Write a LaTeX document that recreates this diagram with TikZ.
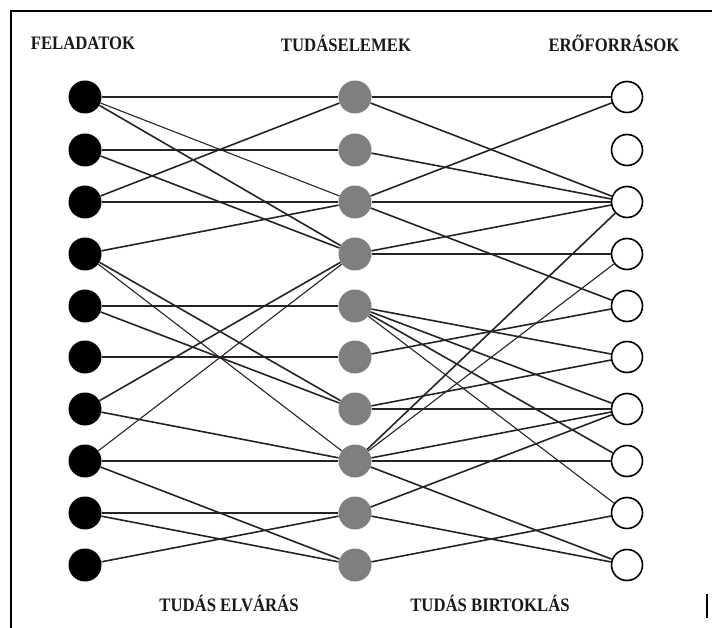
\documentclass[tikz,border=0pt]{standalone}
\usepackage{fontspec}
\setmainfont{Liberation Serif}
\usepackage{xcolor}
\usetikzlibrary{positioning}

\definecolor{linkcol}{HTML}{2A2220}
\definecolor{knowgray}{HTML}{7F7F7F}

\tikzset{
    dot/.style={circle, minimum size=33pt, inner sep=0pt},
    task/.style={dot, fill=black},
    know/.style={dot, fill=knowgray},
    res/.style={dot, minimum size=31pt, draw=black, line width=1.6pt, fill=white},
    link/.style={draw=linkcol, line width=1.6pt},
    thinlink/.style={link, line width=1.1pt},
    thicklink/.style={link, line width=2.6pt},
    heading/.style={font=\bfseries\fontsize{19}{21}\selectfont, text=black!90,
        xscale=0.88, transform shape}
}

\begin{document}
\begin{tikzpicture}[x=1pt, y=-1pt]
    \useasboundingbox (0, 0) rectangle (712, 628);

    % frame
    \draw[line width=2pt] (11, 628) -- (11, 11) -- (712, 11);
    \draw[line width=1.5pt] (707, 594) -- (707, 618);

    \node[heading] (hf) at (83, 43) {FELADATOK};
    \node[heading] (ht) at (346, 43) {TUDÁSELEMEK};
    \node[heading] (he) at (614, 43) {ERŐFORRÁSOK};

    % feladatok
    \node[task] (f1) at (85, 97) {};
    \node[task] (f2) at (85, 150) {};
    \node[task] (f3) at (85, 202) {};
    \node[task] (f4) at (85, 254) {};
    \node[task] (f5) at (85, 306) {};
    \node[task] (f6) at (85, 357) {};
    \node[task] (f7) at (85, 409) {};
    \node[task] (f8) at (85, 461) {};
    \node[task] (f9) at (85, 513) {};
    \node[task] (f10) at (85, 565) {};

    % tudaselemek
    \node[know] (t1) at (355, 97) {};
    \node[know] (t2) at (355, 150) {};
    \node[know] (t3) at (355, 202) {};
    \node[know] (t4) at (355, 254) {};
    \node[know] (t5) at (355, 306) {};
    \node[know] (t6) at (355, 357) {};
    \node[know] (t7) at (355, 409) {};
    \node[know] (t8) at (355, 461) {};
    \node[know] (t9) at (355, 513) {};
    \node[know] (t10) at (355, 565) {};

    % eroforrasok
    \node[res] (e1) at (627, 97) {};
    \node[res] (e2) at (627, 150) {};
    \node[res] (e3) at (627, 202) {};
    \node[res] (e4) at (627, 254) {};
    \node[res] (e5) at (627, 306) {};
    \node[res] (e6) at (627, 357) {};
    \node[res] (e7) at (627, 409) {};
    \node[res] (e8) at (627, 461) {};
    \node[res] (e9) at (627, 513) {};
    \node[res] (e10) at (627, 565) {};

    \node[heading] (elv) at (229, 603) {TUDÁS ELVÁRÁS};
    \node[heading] (bir) at (490, 603) {TUDÁS BIRTOKLÁS};

    % feladat -> tudaselem
    \draw
    (f1) edge[link] (t1)
    (f1) edge[thinlink] (t3)
    (f1) edge[link] (t4)
    (f2) edge[link] (t2)
    (f2) edge[link] (t4)
    (f3) edge[link] (t1)
    (f3) edge[thicklink] (t3)
    (f4) edge[link] (t3)
    (f4) edge[link] (t7)
    (f4) edge[thinlink] (t8)
    (f5) edge[link] (t5)
    (f5) edge[link] (t7)
    (f6) edge[link] (t6)
    (f7) edge[link] (t4)
    (f7) edge[link] (t8)
    (f8) edge[thinlink] (t4)
    (f8) edge[link] (t8)
    (f8) edge[link] (t10)
    (f9) edge[link] (t9)
    (f9) edge[link] (t10)
    (f10) edge[link] (t9);

    % tudaselem -> eroforras
    \draw
    (t1) edge[link] (e1)
    (t1) edge[link] (e3)
    (t2) edge[link] (e3)
    (t3) edge[link] (e1)
    (t3) edge[thicklink] (e3)
    (t3) edge[link] (e5)
    (t4) edge[link] (e3)
    (t4) edge[link] (e4)
    (t5) edge[link] (e6)
    (t5) edge[link] (e7)
    (t5) edge[link] (e8)
    (t5) edge[thinlink] (e9)
    (t6) edge[link] (e5)
    (t7) edge[link] (e6)
    (t7) edge[link] (e7)
    (t8) edge[link] (e3)
    (t8) edge[thinlink] (e4)
    (t8) edge[link] (e7)
    (t8) edge[link] (e8)
    (t8) edge[link] (e10)
    (t9) edge[link] (e7)
    (t9) edge[link] (e10)
    (t10) edge[link] (e9);
\end{tikzpicture}
\end{document}
